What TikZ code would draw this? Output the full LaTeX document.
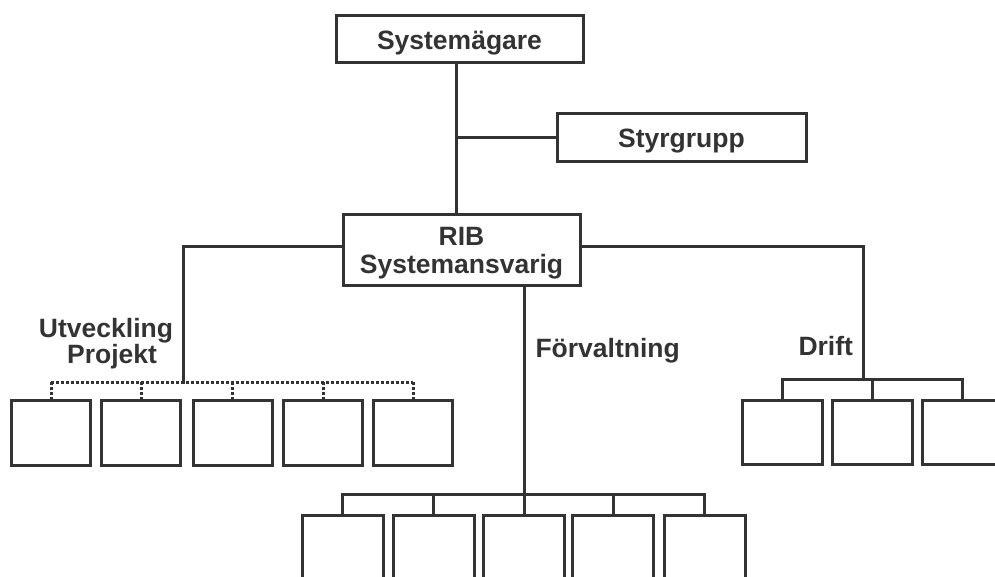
\documentclass[tikz,border=0pt]{standalone}
\usepackage{fontspec}
\setmainfont{Liberation Sans}
\definecolor{ink}{HTML}{333333}
\tikzset{
  txt/.style={font=\bfseries\fontsize{26.5}{28}\selectfont},
  box/.style={draw, rectangle, inner sep=0pt, txt, text height=23pt, text depth=2pt},
  leaf/.style={draw, rectangle, inner sep=0pt, minimum width=79pt, minimum height=65pt},
  lbl/.style={inner sep=0pt, txt},
  udash/.style={dash pattern=on 3pt off 2pt, line cap=butt},
}
\begin{document}
\begin{tikzpicture}[x=1pt,y=-1pt,line width=3pt,color=ink,line cap=rect,line join=miter]
\useasboundingbox (0,0) rectangle (995,576);
\clip (0,0) rectangle (995,576);
% top boxes
\node[box, minimum width=247pt, minimum height=47pt] (own) at (459.5,38.5) {Systemägare};
\node[box, minimum width=249pt, minimum height=48pt] (sty) at (681.5,137) {Styrgrupp};
\node[draw, rectangle, inner sep=0pt, minimum width=237pt, minimum height=71pt] (rib) at (461.5,249.5) {};
\node[lbl, anchor=base] (ribt1) at (461.5,245) {RIB};
\node[lbl, anchor=base] (ribt2) at (461.5,273) {Systemansvarig};
\coordinate (m1) at (456,137);
\draw (own.south -| m1) -- (rib.north -| m1);
\draw (sty.west) -- (sty.west -| m1);
% Utveckling / Projekt
\foreach \x [count=\i] in {51,141,232.5,323,413} \node[leaf] (u\i) at (\x,433) {};
\coordinate (uj) at (183,382);
\draw ([yshift=3pt]rib.west) -| (uj);
\draw[udash] (u1.north |- uj) -- (u5.north |- uj);
\foreach \i in {1,...,5} \draw[udash] (u\i.north |- uj) -- (u\i.north);
\node[lbl, anchor=base] (ul1) at (106,337) {Utveckling};
\node[lbl, anchor=base] (ul2) at (112,363) {Projekt};
% Drift
\foreach \x [count=\i] in {782,872,962} \node[leaf, minimum width=80pt, minimum height=64pt] (d\i) at (\x,432) {};
\coordinate (dj) at (863,379);
\draw ([yshift=3pt]rib.east) -| (dj);
\draw (d1.north |- dj) -- (d3.north |- dj);
\foreach \i in {1,2,3} \draw (d\i.north |- dj) -- (d\i.north);
\node[lbl, anchor=base west] (dl) at (797,355) {Drift};
% Förvaltning
\foreach \x [count=\i] in {342.5,433.5,524,613,704.5} \node[leaf, minimum width=81pt, minimum height=70pt] (f\i) at (\x,550) {};
\coordinate (fj) at (524,494);
\draw (rib.south -| fj) -- (fj);
\draw (f1.north |- fj) -- (f5.north |- fj);
\foreach \i in {1,...,5} \draw (f\i.north |- fj) -- (f\i.north);
\node[lbl, anchor=base west] (fl) at (534,357) {Förvaltning};
\end{tikzpicture}
\end{document}
